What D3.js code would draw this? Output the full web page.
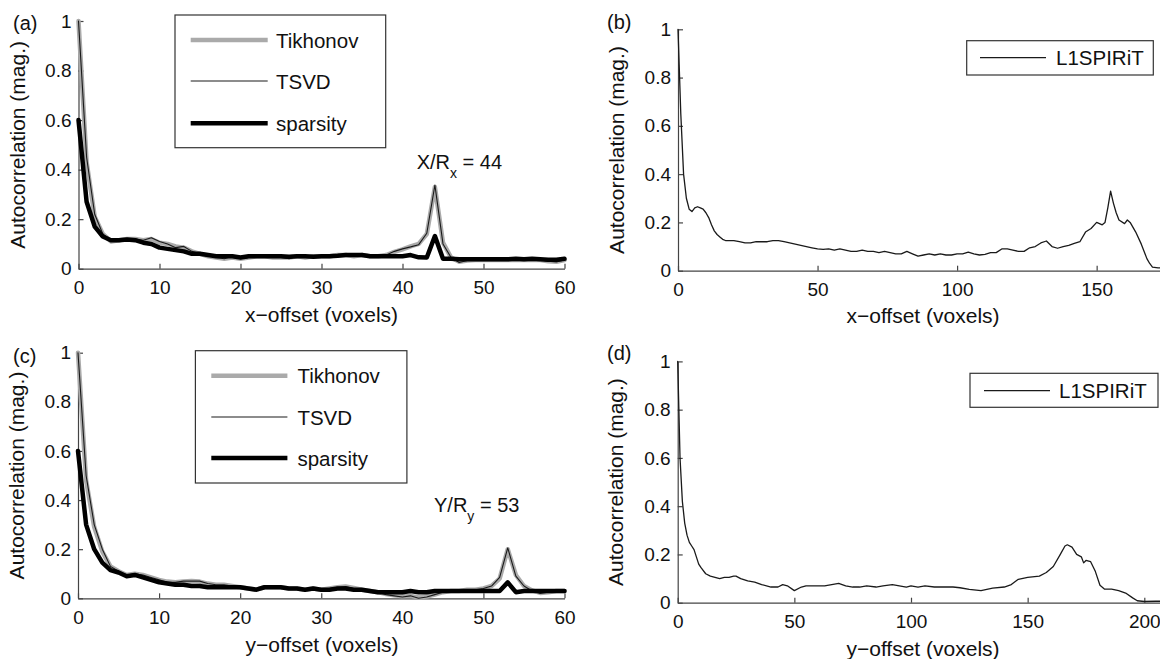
<!DOCTYPE html>
<html><head><meta charset="utf-8">
<script src="https://cdn.jsdelivr.net/npm/d3@7"></script>
<style>
html,body{margin:0;padding:0;background:#fff;}
svg{display:block;font-family:"Liberation Sans",Arial,Helvetica,sans-serif;}
</style></head>
<body>
<svg id="chart" width="1160" height="659"></svg>
<script>
// ---------- data ----------
const offsets60 = d3.range(0, 61);
const tikhonovA = [1.0,0.43,0.21,0.14,0.11,0.115,0.12,0.12,0.115,0.12,
  0.105,0.10,0.09,0.085,0.07,0.06,0.05,0.045,0.04,0.045,
  0.04,0.045,0.05,0.05,0.045,0.045,0.045,0.05,0.045,0.05,
  0.05,0.05,0.055,0.055,0.05,0.055,0.05,0.05,0.055,0.068,
  0.078,0.09,0.1,0.14,0.33,0.105,0.045,0.028,0.033,0.035,
  0.035,0.035,0.036,0.035,0.036,0.035,0.036,0.035,0.03,0.028,0.035];
const tsvdA = [1.0,0.45,0.22,0.14,0.115,0.115,0.12,0.12,0.115,0.125,
  0.11,0.10,0.085,0.09,0.07,0.06,0.055,0.045,0.04,0.05,
  0.04,0.045,0.05,0.05,0.045,0.045,0.04,0.05,0.045,0.05,
  0.05,0.05,0.055,0.055,0.05,0.055,0.05,0.05,0.055,0.07,
  0.08,0.088,0.097,0.143,0.338,0.10,0.045,0.025,0.033,0.035,
  0.035,0.035,0.036,0.035,0.036,0.035,0.036,0.035,0.03,0.027,0.035];
const sparsityA = [0.6,0.27,0.17,0.13,0.115,0.115,0.118,0.115,0.105,0.1,
  0.085,0.08,0.075,0.07,0.06,0.06,0.055,0.05,0.05,0.05,
  0.045,0.05,0.05,0.05,0.05,0.05,0.048,0.05,0.05,0.048,
  0.05,0.05,0.052,0.055,0.055,0.055,0.05,0.05,0.05,0.05,
  0.05,0.055,0.046,0.045,0.132,0.04,0.04,0.038,0.038,0.038,
  0.038,0.038,0.038,0.038,0.04,0.038,0.04,0.038,0.036,0.036,0.04];

const tikhonovC = [1.0,0.48,0.29,0.19,0.13,0.11,0.095,0.1,0.095,0.085,
  0.075,0.068,0.065,0.068,0.07,0.068,0.06,0.055,0.055,0.05,
  0.045,0.04,0.035,0.045,0.045,0.045,0.04,0.04,0.035,0.04,
  0.035,0.04,0.045,0.048,0.042,0.035,0.03,0.025,0.017,0.012,
  0.008,0.01,0.003,0.007,0.015,0.025,0.03,0.03,0.035,0.035,
  0.04,0.05,0.08,0.2,0.095,0.05,0.032,0.022,0.025,0.03,0.03];
const tsvdC = [1.0,0.5,0.3,0.2,0.13,0.11,0.095,0.1,0.095,0.085,
  0.075,0.065,0.065,0.07,0.07,0.07,0.06,0.055,0.055,0.05,
  0.045,0.04,0.035,0.045,0.045,0.045,0.04,0.04,0.035,0.04,
  0.035,0.04,0.045,0.048,0.04,0.035,0.03,0.025,0.015,0.01,
  0.005,0.01,0.0,0.005,0.015,0.025,0.03,0.03,0.035,0.035,
  0.04,0.05,0.085,0.205,0.09,0.05,0.03,0.02,0.025,0.03,0.03];
const sparsityC = [0.6,0.3,0.2,0.145,0.115,0.105,0.09,0.095,0.085,0.075,
  0.065,0.06,0.055,0.055,0.05,0.05,0.045,0.045,0.045,0.045,
  0.045,0.04,0.035,0.045,0.045,0.045,0.04,0.04,0.035,0.04,
  0.035,0.035,0.04,0.04,0.035,0.035,0.03,0.025,0.025,0.025,
  0.025,0.03,0.025,0.025,0.03,0.03,0.03,0.03,0.03,0.03,
  0.03,0.03,0.03,0.065,0.025,0.03,0.03,0.03,0.03,0.03,0.03];

const l1spiritBX = [0,1,2,3,4,5,6,7,8,9,10,11,12,13,14,15,16,17,18,
  20,22,24,26,28,30,32,34,36,38,40,42,44,46,48,50,52,54,56,58,60,62,64,66,68,70,72,74,76,78,
  80,82,84,86,88,90,92,94,96,98,100,102,104,106,108,110,112,114,116,118,120,122,124,126,128,
  130,132,134,136,138,140,142,144,146,148,150,
  152,153,154,155,156,157,158,160,161,162,164,166,168,169,170,172,175];
const l1spiritBY = [1.0,0.65,0.4,0.3,0.255,0.245,0.26,0.265,0.26,0.255,0.24,0.22,0.19,0.165,0.15,0.14,0.13,0.125,0.125,
  0.125,0.12,0.115,0.115,0.12,0.12,0.12,0.125,0.125,0.12,
  0.115,0.11,0.105,0.1,0.095,0.09,0.088,0.09,0.085,0.09,
  0.085,0.08,0.08,0.085,0.08,0.08,0.075,0.08,0.075,0.07,
  0.07,0.08,0.07,0.06,0.065,0.07,0.065,0.07,0.065,0.065,
  0.07,0.07,0.077,0.07,0.065,0.068,0.075,0.075,0.09,0.09,
  0.085,0.08,0.08,0.095,0.1,0.115,0.123,0.1,0.093,0.1,
  0.105,0.113,0.12,0.16,0.175,0.2,
  0.19,0.2,0.26,0.33,0.28,0.24,0.21,0.195,0.21,0.2,0.16,0.11,0.05,0.03,0.015,0.012,0.012];

const l1spiritDX = [0,1,2,3,4,5,6,7,8,9,10,12,14,16,18,20,22,24,25,27,30,
  33,36,40,43,45,47,50,53,55,58,60,63,66,69,72,75,78,81,85,88,
  92,95,98,100,103,106,110,114,118,121,125,130,135,140,143,146,150,155,158,161,
  164,166,167,169,171,173,174,175,177,179,181,183,186,189,192,195,197,200,205,211];
const l1spiritDY = [1.0,0.6,0.42,0.33,0.28,0.25,0.235,0.22,0.19,0.16,0.145,0.12,0.11,0.105,0.1,0.105,0.105,0.11,0.11,0.1,0.09,
  0.085,0.075,0.065,0.065,0.075,0.07,0.05,0.065,0.07,0.07,0.07,0.07,0.075,0.08,0.07,0.065,0.065,0.07,0.065,0.07,
  0.075,0.07,0.065,0.07,0.065,0.07,0.065,0.065,0.065,0.062,0.055,0.05,0.06,0.065,0.075,0.097,0.105,0.11,0.125,0.15,
  0.2,0.235,0.24,0.23,0.2,0.19,0.165,0.175,0.17,0.13,0.072,0.056,0.056,0.05,0.04,0.02,0.008,0.005,0.006,0.006];

const yTicks = [0, 0.2, 0.4, 0.6, 0.8, 1];
const xTicks60 = [0, 10, 20, 30, 40, 50, 60];
const xTicksB = [0, 50, 100, 150];
const xTicksD = [0, 50, 100, 150, 200];
const legendLR = ["Tikhonov", "TSVD", "sparsity"];
const legendSpirit = ["L1SPIRiT"];

// ---------- drawing ----------
const svg = d3.select("#chart");
const FONT = '"Liberation Sans",Arial,Helvetica,sans-serif';

function axes(p) {
  const x = d3.scaleLinear().domain(p.xDomain).range(p.xRange);
  const y = d3.scaleLinear().domain([0, 1]).range(p.yRange);
  const g = svg.append("g");
  const ax = g.append("g").attr("transform", `translate(0,${p.yRange[0]})`)
    .call(d3.axisBottom(x).tickValues(p.xTicks).tickSize(-5).tickSizeOuter(0).tickPadding(12).tickFormat(d3.format("d")));
  const ay = g.append("g").attr("transform", `translate(${p.xRange[0]},0)`)
    .call(d3.axisLeft(y).tickValues(yTicks).tickSize(-5).tickSizeOuter(0).tickPadding(7).tickFormat(d => String(d)));
  [ax, ay].forEach(a => {
    a.attr("font-size", 19).attr("font-family", FONT);
    a.selectAll("path,line").attr("stroke", "#444").attr("stroke-width", 1.2);
    a.selectAll("text").attr("fill", "#111");
  });
  g.append("text").attr("x", p.label[0]).attr("y", p.label[1]).attr("font-size", 20).attr("fill", "#111").text(p.tag);
  g.append("text").attr("x", p.xlab[0]).attr("y", p.xlab[1]).attr("text-anchor", "middle")
    .attr("font-size", 21).attr("fill", "#111").text(p.xText);
  const yc = (p.yRange[0] + p.yRange[1]) / 2;
  g.append("text").attr("transform", `translate(${p.ylabX},${yc}) rotate(-90)`)
    .attr("text-anchor", "middle").attr("font-size", 21).attr("fill", "#111").text("Autocorrelation (mag.)");
  return {g, x, y};
}

function drawLine(ctx, xs, ys, color, width) {
  const line = d3.line().x(d => ctx.x(d[0])).y(d => ctx.y(d[1]));
  ctx.g.append("path").datum(xs.map((v, i) => [v, ys[i]]))
    .attr("d", line).attr("fill", "none").attr("stroke", color)
    .attr("stroke-width", width).attr("stroke-linejoin", "round").attr("stroke-linecap", "round");
}

const styles = [
  {color: "#aaaaaa", width: 4.5},
  {color: "#1a1a1a", width: 1.1},
  {color: "#000000", width: 4.5}
];

function legend3(ctx, box, lineX, rowY, textX) {
  ctx.g.append("rect").attr("x", box[0]).attr("y", box[1]).attr("width", box[2]).attr("height", box[3])
    .attr("fill", "#fff").attr("stroke", "#333").attr("stroke-width", 1.2);
  legendLR.forEach((name, i) => {
    ctx.g.append("line").attr("x1", lineX[0]).attr("x2", lineX[1]).attr("y1", rowY[i]).attr("y2", rowY[i])
      .attr("stroke", styles[i].color).attr("stroke-width", styles[i].width);
    ctx.g.append("text").attr("x", textX).attr("y", rowY[i] + 7.5).attr("font-size", 20.5).attr("fill", "#111").text(name);
  });
}

function legend1(ctx, box, lineX, rowY, textX) {
  ctx.g.append("rect").attr("x", box[0]).attr("y", box[1]).attr("width", box[2]).attr("height", box[3])
    .attr("fill", "#fff").attr("stroke", "#333").attr("stroke-width", 1.2);
  ctx.g.append("line").attr("x1", lineX[0]).attr("x2", lineX[1]).attr("y1", rowY).attr("y2", rowY)
    .attr("stroke", "#1a1a1a").attr("stroke-width", 1.3);
  ctx.g.append("text").attr("x", textX).attr("y", rowY + 7.5).attr("font-size", 20.5).attr("fill", "#111").text(legendSpirit[0]);
}

function annot(ctx, x, y, main, sub, rest) {
  const t = ctx.g.append("text").attr("x", x).attr("y", y).attr("font-size", 20).attr("fill", "#111");
  t.append("tspan").text(main);
  t.append("tspan").attr("font-size", 14).attr("dy", 9).text(sub);
  t.append("tspan").attr("dy", -9).text(rest);
}

// (a)
const A = axes({xDomain: [0, 60], xRange: [78.5, 564.5], yRange: [268.7, 21], xTicks: xTicks60,
  tag: "(a)", label: [13, 30], xlab: [321.5, 321.7], xText: "x\u2212offset (voxels)", ylabX: 25});
drawLine(A, offsets60, tikhonovA, styles[0].color, styles[0].width);
drawLine(A, offsets60, tsvdA, styles[1].color, styles[1].width);
drawLine(A, offsets60, sparsityA, styles[2].color, styles[2].width);
legend3(A, [175, 15, 210.7, 132.7], [190.7, 267.7], [40, 81, 123.3], 276);
annot(A, 416.7, 169.3, "X/R", "x", " = 44");

// (b)
const B = axes({xDomain: [0, 175], xRange: [678, 678 + 175 * 2.791], yRange: [270.7, 29.3], xTicks: xTicksB,
  tag: "(b)", label: [607, 29], xlab: [923, 322.7], xText: "x\u2212offset (voxels)", ylabX: 624});
drawLine(B, l1spiritBX, l1spiritBY, "#1a1a1a", 1.3);
legend1(B, [966.7, 40.7, 186.6, 34.3], [980, 1046], 57.7, 1056);

// (c)
const C = axes({xDomain: [0, 60], xRange: [78, 564.5], yRange: [598.3, 352.7], xTicks: xTicks60,
  tag: "(c)", label: [13, 363], xlab: [322, 651.5], xText: "y\u2212offset (voxels)", ylabX: 24});
drawLine(C, offsets60, tikhonovC, styles[0].color, styles[0].width);
drawLine(C, offsets60, tsvdC, styles[1].color, styles[1].width);
drawLine(C, offsets60, sparsityC, styles[2].color, styles[2].width);
legend3(C, [195.4, 350.7, 211.5, 132.3], [211.3, 287.4], [375.7, 417, 458], 297.4);
annot(C, 434, 512.3, "Y/R", "y", " = 53");

// (d)
const D = axes({xDomain: [0, 211], xRange: [677.7, 677.7 + 211 * 2.333], yRange: [602.7, 361.4], xTicks: xTicksD,
  tag: "(d)", label: [607, 359.7], xlab: [923, 655.7], xText: "y\u2212offset (voxels)", ylabX: 623});
drawLine(D, l1spiritDX, l1spiritDY, "#1a1a1a", 1.3);
legend1(D, [970, 373.3, 188, 34], [984, 1050], 390.7, 1059);
</script>
</body></html>
